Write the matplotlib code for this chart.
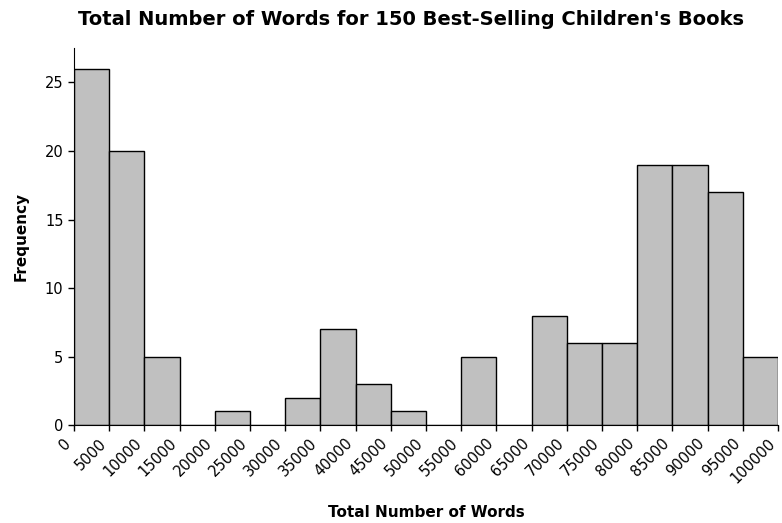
import numpy as np
import matplotlib.pyplot as plt

bin_edges = list(range(0, 100001, 5000))
counts = [26, 20, 5, 0, 1, 0, 2, 7, 3, 1, 0, 5, 0, 8, 6, 6, 19, 19, 17, 5]
title = "Total Number of Words for 150 Best-Selling Children's Books"
xlabel = "Total Number of Words"
ylabel = "Frequency"

fig = plt.figure(figsize=(7.82, 5.23), dpi=100)
ax = fig.add_axes([0.0946, 0.187, 0.9004, 0.721])

ax.bar(bin_edges[:-1], counts, width=5000, align="edge",
       color="#c0c0c0", edgecolor="black", linewidth=1)

ax.set_xlim(0, 100000)
ax.set_ylim(0, 27.5)
ax.set_xticks(bin_edges)
ax.set_xticklabels([str(b) for b in bin_edges], rotation=45, ha="right",
                   fontsize=10.5)
ax.set_yticks([0, 5, 10, 15, 20, 25])
ax.tick_params(axis="y", labelsize=10.5)
ax.tick_params(length=4, width=1)
ax.spines["top"].set_visible(False)
ax.spines["right"].set_visible(False)

ax.set_xlabel(xlabel, fontsize=11, fontweight="bold", labelpad=14)
ax.set_ylabel(ylabel, fontsize=11, fontweight="bold", labelpad=12)
fig.text(0.525, 0.962, title, ha="center", va="center", fontsize=14,
         fontweight="bold")

fig.savefig("out.png", dpi=100)
